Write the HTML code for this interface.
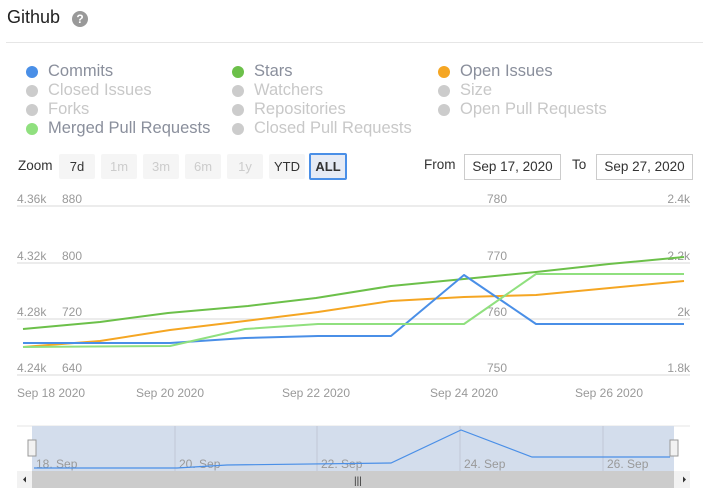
<!DOCTYPE html>
<html><head><style>
body{margin:0;width:713px;height:502px;background:#fff;font-family:"Liberation Sans",sans-serif;overflow:hidden;position:relative}
.a{position:absolute;white-space:nowrap}
.lg{font-size:16.5px;color:#8a8f9c}
.lg.off{color:#c8c8c8}
.dot{position:absolute;width:12px;height:12px;border-radius:50%}
.btn{position:absolute;top:154px;height:25px;background:#f5f5f5;font-size:13px;line-height:25px;text-align:center;color:#333;border-radius:2px}
.btn.d{color:#ccc}
.inp{position:absolute;top:154px;height:24px;border:1px solid #ccc;font-size:13.5px;line-height:24px;text-align:center;color:#333}
</style></head><body>
<div class="a" style="left:7px;top:7px;font-size:18px;color:#222">Github</div>
<div class="a" style="left:72px;top:11px;width:16px;height:16px;border-radius:50%;background:#999;color:#fff;font-size:12px;font-weight:bold;text-align:center;line-height:16px">?</div>
<div class="a" style="left:6px;top:42px;width:697px;height:1px;background:#e6e6e6"></div>

<div class="dot" style="left:26px;top:66px;background:#4a8fe7"></div><div class="a lg" style="left:48px;top:62px">Commits</div>
<div class="dot" style="left:26px;top:85px;background:#ccc"></div><div class="a lg off" style="left:48px;top:81px">Closed Issues</div>
<div class="dot" style="left:26px;top:104px;background:#ccc"></div><div class="a lg off" style="left:48px;top:100px">Forks</div>
<div class="dot" style="left:26px;top:123px;background:#90e07f"></div><div class="a lg" style="left:48px;top:119px">Merged Pull Requests</div>
<div class="dot" style="left:232px;top:66px;background:#6cc04a"></div><div class="a lg" style="left:254px;top:62px">Stars</div>
<div class="dot" style="left:232px;top:85px;background:#ccc"></div><div class="a lg off" style="left:254px;top:81px">Watchers</div>
<div class="dot" style="left:232px;top:104px;background:#ccc"></div><div class="a lg off" style="left:254px;top:100px">Repositories</div>
<div class="dot" style="left:232px;top:123px;background:#ccc"></div><div class="a lg off" style="left:254px;top:119px">Closed Pull Requests</div>
<div class="dot" style="left:438px;top:66px;background:#f5a623"></div><div class="a lg" style="left:460px;top:62px">Open Issues</div>
<div class="dot" style="left:438px;top:85px;background:#ccc"></div><div class="a lg off" style="left:460px;top:81px">Size</div>
<div class="dot" style="left:438px;top:104px;background:#ccc"></div><div class="a lg off" style="left:460px;top:100px">Open Pull Requests</div>

<div class="a" style="left:18px;top:158px;font-size:13.5px;color:#333">Zoom</div>
<div class="btn" style="left:59px;width:36px">7d</div>
<div class="btn d" style="left:101px;width:36px">1m</div>
<div class="btn d" style="left:143px;width:36px">3m</div>
<div class="btn d" style="left:185px;width:36px">6m</div>
<div class="btn d" style="left:227px;width:36px">1y</div>
<div class="btn" style="left:269px;width:36px">YTD</div>
<div class="btn" style="left:309px;top:153px;width:34px;height:23px;border:2px solid #4a8fe7;background:#e6ebf5;font-weight:bold;line-height:23px">ALL</div>
<div class="a" style="left:424px;top:157px;font-size:13.5px;color:#333">From</div>
<div class="inp" style="left:464px;width:95px">Sep 17, 2020</div>
<div class="a" style="left:572px;top:157px;font-size:13.5px;color:#333">To</div>
<div class="inp" style="left:596px;width:95px">Sep 27, 2020</div>

<svg class="a" style="left:0;top:0" width="713" height="502">
<g stroke="#e6e6e6" stroke-width="1.5">
<line x1="17" y1="206" x2="690" y2="206"/><line x1="17" y1="263" x2="690" y2="263"/><line x1="17" y1="319" x2="690" y2="319"/><line x1="17" y1="375" x2="690" y2="375"/></g>
<g font-size="12" fill="#999" font-family="Liberation Sans">
<text x="17" y="203">4.36k</text><text x="62" y="203">880</text><text x="487" y="203">780</text><text x="690" y="203" text-anchor="end">2.4k</text>
<text x="17" y="260">4.32k</text><text x="62" y="260">800</text><text x="487" y="260">770</text><text x="690" y="260" text-anchor="end">2.2k</text>
<text x="17" y="316">4.28k</text><text x="62" y="316">720</text><text x="487" y="316">760</text><text x="690" y="316" text-anchor="end">2k</text>
<text x="17" y="372">4.24k</text><text x="62" y="372">640</text><text x="487" y="372">750</text><text x="690" y="372" text-anchor="end">1.8k</text>
<text x="17" y="397">Sep 18 2020</text><text x="170" y="397" text-anchor="middle">Sep 20 2020</text><text x="316" y="397" text-anchor="middle">Sep 22 2020</text><text x="464" y="397" text-anchor="middle">Sep 24 2020</text><text x="609" y="397" text-anchor="middle">Sep 26 2020</text>
</g>
<g fill="none" stroke-width="2" stroke-linejoin="round">
<polyline stroke="#6cc04a" points="23,329 100,322 168,313 248,306 316,298 391,286 464,279 536,272 609,264 684,257"/>
<polyline stroke="#f5a623" points="23,347 100,341 170,330 245,321 318,312 391,301 464,297 536,295 684,281"/>
<polyline stroke="#4a8fe7" points="23,343 170,343 245,338 318,336 391,336 464,275 536,324 684,324"/>
<polyline stroke="#90e07f" points="23,347 170,346 245,329 318,324 464,324 536,274 684,274"/>
</g>
<line x1="17" y1="426" x2="690" y2="426" stroke="#e6e6e6"/>
<rect x="32" y="426" width="642" height="45" fill="#d3ddec"/>
<g stroke="#c0c8d6" stroke-width="1"><line x1="175" y1="426" x2="175" y2="471"/><line x1="317" y1="426" x2="317" y2="471"/><line x1="460" y1="426" x2="460" y2="471"/><line x1="603" y1="426" x2="603" y2="471"/></g>
<g font-size="12" fill="#999" font-family="Liberation Sans"><text x="36" y="468">18. Sep</text><text x="179" y="468">20. Sep</text><text x="321" y="468">22. Sep</text><text x="464" y="468">24. Sep</text><text x="607" y="468">26. Sep</text></g>
<polyline fill="none" stroke="#4a8fe7" stroke-width="1.2" points="34,468 177,468 227,465 391,463 461,430 532,457 670,457"/>
<rect x="28" y="440" width="8" height="16" fill="#f2f2f2" stroke="#999"/><rect x="670" y="440" width="8" height="16" fill="#f2f2f2" stroke="#999"/>
<rect x="17" y="471" width="673" height="17" fill="#f2f2f2"/>
<rect x="32" y="471" width="642" height="17" fill="#ccc"/>
<text x="354" y="484" font-size="10" fill="#333">|||</text>
<path d="M23,479.5 l3,-3 l0,6z M686,479.5 l-3,-3 l0,6z" fill="#333"/>
</svg>
</body></html>
